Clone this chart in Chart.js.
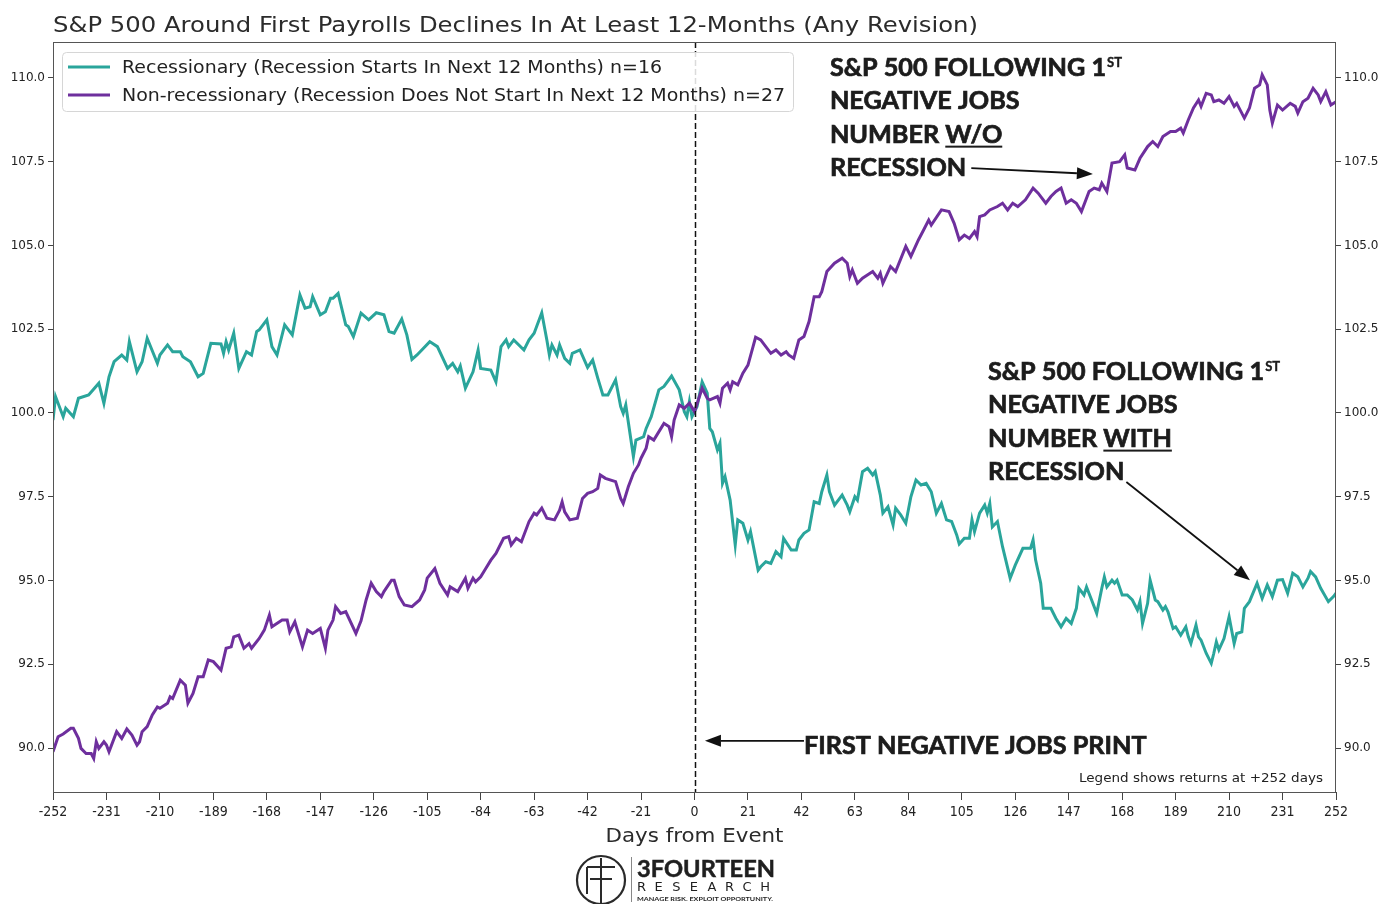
<!DOCTYPE html>
<html>
<head>
<meta charset="utf-8">
<script src="https://cdn.jsdelivr.net/npm/chart.js@4"></script>
<style>
  html, body { margin: 0; padding: 0; background: #fff; }
  canvas { display: block; }
</style>
</head>
<body>
<canvas id="chart" width="1395" height="904"></canvas>
<script>
// ── Data ──────────────────────────────────────────────────
const TITLE = 'S&P 500 Around First Payrolls Declines In At Least 12-Months (Any Revision)';
const LABEL_REC = 'Recessionary (Recession Starts In Next 12 Months) n=16';
const LABEL_NON = 'Non-recessionary (Recession Does Not Start In Next 12 Months) n=27';

const X_TICKS = [-252,-231,-210,-189,-168,-147,-126,-105,-84,-63,-42,-21,0,21,42,63,84,105,126,147,168,189,210,231,252];
const Y_TICKS = [90.0, 92.5, 95.0, 97.5, 100.0, 102.5, 105.0, 107.5, 110.0];

const DAYS_REC = [-252,-251,-248,-247,-244,-242,-238,-234,-232,-230,-228,-225,-223,-222,-219,-217,-215,-211,-210,-207,
  -205,-202,-201,-198,-195,-193,-190,-186,-185,-184,-183,-181,-179,-176,-174,-172,-171,-168,-166,-164,
  -161,-158,-155,-153,-151,-150,-147,-145,-143,-142,-140,-137,-136,-134,-131,-128,-125,-122,-120,-118,
  -115,-113,-111,-109,-104,-101,-97,-95,-93,-92,-90,-87,-85,-84,-80,-78,-76,-74,-73,-71,
  -67,-65,-63,-60,-58,-57,-56,-54,-53,-51,-49,-48,-45,-42,-40,-38,-36,-34,-31,-29,
  -28,-27,-24,-23,-20,-19,-17,-14,-12,-9,-6,-4,-3,-2,-1,1,3,5,6,7,
  9,10,11,12,14,16,17,19,21,22,25,26,28,30,32,34,35,38,40,41,
  43,45,47,49,50,52,53,55,58,60,61,63,64,66,68,70,71,73,74,76,
  78,79,81,83,85,87,89,91,93,95,97,99,101,103,104,106,108,109,110,112,
  114,115,116,117,119,121,124,126,129,132,133,134,136,137,140,142,144,146,148,150,
  151,153,154,156,158,160,161,162,164,165,166,168,170,172,174,175,176,178,179,181,
  182,184,185,186,188,189,191,193,194,195,197,198,199,201,203,204,205,206,208,210,
  212,213,215,216,218,221,223,225,227,229,231,233,235,237,239,241,242,244,246,249,
  251,252];
const VALS_REC = [99.79,100.49,99.89,100.14,99.89,100.44,100.54,100.89,100.29,101.08,101.53,101.73,101.58,102.13,101.23,101.53,102.23,101.48,101.73,102.03,
  101.83,101.83,101.68,101.53,101.08,101.18,102.08,102.06,101.78,102.13,101.88,102.38,101.33,101.83,101.73,102.43,102.48,102.78,101.98,101.73,
  102.63,102.33,103.52,103.13,103.17,103.47,102.93,103.02,103.42,103.42,103.57,102.63,102.58,102.28,102.98,102.78,102.99,102.93,102.43,102.38,
  102.80,102.33,101.60,101.73,102.13,101.98,101.33,101.48,101.23,101.40,100.74,101.23,101.88,101.33,101.28,100.93,101.98,102.18,101.98,102.18,
  101.88,102.18,102.38,102.99,102.18,101.73,102.03,101.73,102.03,101.63,101.48,101.78,101.88,101.36,101.58,101.04,100.54,100.54,100.99,100.19,
  99.99,100.24,98.70,99.19,99.29,99.54,99.89,100.69,100.79,101.10,100.69,100.04,99.89,100.34,99.89,100.19,100.93,100.59,99.54,99.44,
  98.90,99.10,97.90,98.10,97.40,96.06,96.81,96.71,96.21,96.46,95.31,95.41,95.56,95.51,95.86,95.71,96.26,95.91,95.91,96.21,
  96.41,96.51,97.35,97.30,97.65,98.15,97.65,97.25,97.55,97.25,97.05,97.50,97.40,98.25,98.35,98.15,98.25,97.55,97.01,97.20,
  96.66,97.16,96.96,96.71,97.50,98.00,97.85,97.90,97.65,97.01,97.30,96.81,96.76,96.36,96.09,96.26,96.26,96.81,96.46,97.01,
  97.25,97.01,97.30,96.60,96.76,96.01,95.07,95.46,95.96,95.96,96.21,95.61,94.92,94.17,94.17,93.87,93.62,93.87,93.72,94.17,
  94.77,94.57,94.81,94.42,94.02,94.77,95.11,94.81,95.01,94.92,95.01,94.57,94.57,94.42,94.12,94.37,93.72,94.32,95.01,94.42,
  94.37,94.12,94.22,94.07,93.57,93.62,93.37,93.62,93.32,93.12,93.67,93.32,93.22,92.83,92.53,92.83,93.17,92.93,93.27,93.92,
  93.12,93.42,93.47,94.17,94.37,94.92,94.47,94.87,94.52,95.01,95.03,94.62,95.22,95.11,94.81,95.07,95.27,95.11,94.77,94.37,
  94.52,94.62];

const DAYS_NON = [-252,-250,-248,-245,-244,-242,-241,-239,-237,-236,-235,-234,-232,-231,-230,-227,-225,-223,-221,-219,
  -218,-217,-215,-213,-211,-210,-207,-206,-205,-202,-200,-199,-197,-195,-193,-191,-189,-186,-184,-182,
  -181,-179,-177,-175,-174,-171,-169,-167,-166,-162,-160,-159,-157,-154,-152,-150,-147,-145,-144,-142,
  -141,-139,-137,-133,-131,-129,-127,-125,-123,-122,-119,-118,-116,-114,-111,-108,-106,-105,-102,-100,
  -97,-96,-93,-90,-89,-87,-86,-84,-82,-80,-78,-75,-73,-72,-70,-68,-65,-63,-62,-60,
  -58,-55,-53,-52,-51,-49,-46,-44,-42,-40,-38,-37,-35,-31,-29,-28,-26,-24,-22,-21,
  -19,-18,-16,-12,-10,-9,-8,-6,-4,-2,0,3,5,6,9,10,11,13,14,15,
  17,19,21,23,24,26,30,32,34,36,37,39,41,43,45,47,49,50,52,55,
  58,60,61,62,64,66,70,72,73,74,77,79,83,85,88,90,92,93,97,100,
  102,104,106,108,110,111,112,114,116,119,121,123,125,127,130,133,135,138,140,142,
  144,146,148,150,152,155,157,159,160,162,164,167,169,170,173,175,178,180,182,184,
  187,189,191,192,194,196,198,199,201,203,204,206,208,210,212,213,216,218,220,222,
  223,225,226,227,229,231,234,236,237,239,241,243,245,246,248,250,252];
const VALS_NON = [89.89,90.34,90.42,90.59,90.59,90.29,89.99,89.84,89.84,89.69,90.19,89.99,90.19,90.09,89.89,90.49,90.29,90.57,90.39,90.09,
  90.19,90.49,90.64,90.99,91.23,91.19,91.34,91.53,91.48,92.03,91.88,91.34,91.63,92.13,92.13,92.63,92.58,92.33,92.98,93.02,
  93.32,93.37,92.98,93.12,92.98,93.27,93.52,93.97,93.62,93.82,93.82,93.47,93.77,93.02,93.52,93.42,93.57,92.98,93.52,93.82,
  94.22,94.02,94.07,93.42,93.80,94.42,94.92,94.67,94.52,94.67,95.01,95.01,94.52,94.27,94.22,94.42,94.72,95.07,95.36,94.92,
  94.57,94.81,94.67,95.07,94.77,95.07,94.96,95.11,95.36,95.61,95.81,96.26,96.31,96.06,96.26,96.16,96.76,97.01,96.96,97.16,
  96.86,96.81,97.10,97.35,97.05,96.81,96.86,97.45,97.60,97.65,97.75,98.15,98.05,97.95,97.45,97.30,97.80,98.20,98.45,98.65,
  98.95,99.29,99.19,99.69,99.59,99.29,99.79,100.24,100.14,100.29,100.04,100.74,100.44,100.39,100.49,100.29,100.74,100.89,100.69,100.93,
  100.84,101.19,101.43,101.98,102.26,102.18,101.78,101.88,101.73,101.83,101.73,101.63,102.18,102.28,102.73,103.47,103.47,103.62,104.22,104.47,
  104.62,104.47,104.07,104.27,103.87,104.02,104.22,104.02,104.17,103.87,104.37,104.22,104.97,104.67,105.17,105.46,105.76,105.61,106.06,106.01,
  105.66,105.17,105.31,105.21,105.41,105.26,105.86,105.91,106.06,106.16,106.26,106.06,106.26,106.16,106.36,106.71,106.56,106.26,106.46,106.61,
  106.71,106.26,106.36,106.26,106.01,106.61,106.71,106.66,106.86,106.61,107.46,107.50,107.70,107.31,107.25,107.60,107.95,108.10,107.95,108.25,
  108.40,108.40,108.50,108.35,108.75,109.10,109.34,109.15,109.54,109.49,109.29,109.34,109.24,109.44,109.15,109.24,108.80,109.10,109.69,109.79,
  110.09,109.79,109.04,108.65,109.19,109.04,109.24,109.15,108.95,109.29,109.39,109.69,109.49,109.29,109.59,109.19,109.29];

// ── Styles ────────────────────────────────────────────────
const TEAL   = '#2aa59b';
const PURPLE = '#6e2f9d';
const INK    = '#222222';
const Y_MIN  = 88.69, Y_MAX = 111.07;
const TICK_FONT   = { family: "'DejaVu Sans', sans-serif", size: 12 };
const XTICK_FONT  = { family: "'DejaVu Sans Condensed', 'DejaVu Sans', sans-serif", size: 14 };
const BOLD = "Lato, 'Noto Sans', sans-serif";

const toPts = (xs, ys) => xs.map((d, i) => ({ x: d, y: ys[i] }));

// draws text squeezed/stretched to a given width
function fitText(ctx, text, x, y, font, width, align, stroke) {
  ctx.save();
  ctx.font = font;
  const w = ctx.measureText(text).width;
  const sx = width ? width / w : 1;
  ctx.translate(x, y);
  ctx.scale(sx, 1);
  ctx.textAlign = align || 'left';
  ctx.fillText(text, 0, 0);
  if (stroke) {
    ctx.lineWidth = stroke; ctx.strokeStyle = ctx.fillStyle;
    ctx.strokeText(text, 0, 0);
  }
  ctx.restore();
  return w * sx;
}

function arrow(ctx, x1, y1, x2, y2) {
  const a = Math.atan2(y2 - y1, x2 - x1), L = 16, W = 6;
  ctx.save();
  ctx.strokeStyle = '#111'; ctx.fillStyle = '#111'; ctx.lineWidth = 1.8;
  ctx.beginPath();
  ctx.moveTo(x1, y1);
  ctx.lineTo(x2 - L * Math.cos(a), y2 - L * Math.sin(a));
  ctx.stroke();
  ctx.beginPath();
  ctx.moveTo(x2, y2);
  ctx.lineTo(x2 - L * Math.cos(a) + W * Math.sin(a), y2 - L * Math.sin(a) - W * Math.cos(a));
  ctx.lineTo(x2 - L * Math.cos(a) - W * Math.sin(a), y2 - L * Math.sin(a) + W * Math.cos(a));
  ctx.closePath();
  ctx.fill();
  ctx.restore();
}

// ── Decorations: frame, zero line, legend, notes, logo ────
const decor = {
  id: 'decor',
  afterDatasetsDraw(chart) {
    const { ctx, chartArea: ca, scales: { x } } = chart;
    // dashed event line
    ctx.save();
    ctx.strokeStyle = '#111'; ctx.lineWidth = 1.5; ctx.setLineDash([6, 3]);
    const x0 = Math.round(x.getPixelForValue(0)) + 0.5;
    ctx.beginPath(); ctx.moveTo(x0, ca.top); ctx.lineTo(x0, ca.bottom); ctx.stroke();
    ctx.restore();
  },
  afterDraw(chart) {
    const { ctx, chartArea: ca, scales: { x, y } } = chart;
    const px = v => x.getPixelForValue(v), py = v => y.getPixelForValue(v);

    // frame
    ctx.save();
    ctx.strokeStyle = '#555'; ctx.lineWidth = 1;
    ctx.strokeRect(ca.left + 0.5, ca.top + 0.5, ca.right - ca.left - 1, ca.bottom - ca.top);
    ctx.restore();

    // title
    ctx.fillStyle = '#2b2b2b'; ctx.textBaseline = 'alphabetic';
    fitText(ctx, TITLE, ca.left, 32, "22px 'DejaVu Sans'", 925);

    // legend box
    const lx = ca.left + 9, ly = ca.top + 10;
    ctx.save();
    ctx.fillStyle = 'rgba(255,255,255,0.85)'; ctx.strokeStyle = '#d6d6d6'; ctx.lineWidth = 1;
    ctx.beginPath(); ctx.roundRect(lx + 0.5, ly + 0.5, 731, 59, 4); ctx.fill(); ctx.stroke();
    [[TEAL, LABEL_REC, 15, 540], [PURPLE, LABEL_NON, 43, 663]].forEach(([c, t, dy, w]) => {
      ctx.strokeStyle = c; ctx.lineWidth = 3;
      ctx.beginPath(); ctx.moveTo(lx + 6, ly + dy); ctx.lineTo(lx + 48, ly + dy); ctx.stroke();
      ctx.fillStyle = INK; ctx.textBaseline = 'middle';
      fitText(ctx, t, lx + 60, ly + dy + 1.5, "17px 'DejaVu Sans'", w);
    });
    ctx.restore();

    // annotation blocks
    ctx.save();
    ctx.fillStyle = '#1c1c1c'; ctx.textBaseline = 'alphabetic';
    const sq = 1.05;
    const bold = (t, bx, by) => {
      ctx.font = `bold 24px ${BOLD}`;
      const w = ctx.measureText(t).width * sq;
      fitText(ctx, t, bx, by, `bold 24px ${BOLD}`, w, 'left', 0.7);
      return w;
    };
    const LH = 33.4;
    const block = (bx, by, under) => {
      let w = bold('S&P 500 FOLLOWING 1', bx, by);
      fitText(ctx, 'ST', bx + w + 1, by - 9, `bold 13px ${BOLD}`, 0, 'left', 0.4);
      bold('NEGATIVE JOBS', bx, by + LH);
      w = bold('NUMBER ', bx, by + 2 * LH);
      const uw = bold(under, bx + w, by + 2 * LH);
      ctx.fillRect(bx + w, by + 2 * LH + 3, uw, 2);
      return bold('RECESSION', bx, by + 3 * LH);
    };
    const ax = px(53.2), ay = py(110.06);
    const wA = block(ax, ay, 'W/O');
    arrow(ctx, ax + wA + 5, ay + 3 * LH - 8, px(156.5), py(107.13));
    const bx = px(115.3), by = py(100.99);
    const wB = block(bx, by, 'WITH');
    arrow(ctx, bx + wB + 2, by + 3 * LH + 2, px(218.2), py(95.01));
    const fx = px(43.0), fy = py(89.83);
    bold('FIRST NEGATIVE JOBS PRINT', fx, fy);
    arrow(ctx, fx, fy - 13, px(4.1), fy - 13);
    ctx.restore();

    // note
    ctx.fillStyle = INK; ctx.textBaseline = 'alphabetic';
    fitText(ctx, 'Legend shows returns at +252 days', ca.right - 13, ca.bottom - 10, "13px 'DejaVu Sans'", 244, 'right');

    // axis title
    ctx.fillStyle = '#2b2b2b';
    fitText(ctx, 'Days from Event', px(0), ca.bottom + 50, "20px 'DejaVu Sans'", 178, 'center');

    // logo
    const cx = 601, cy = 880;
    ctx.save();
    ctx.strokeStyle = '#2a2a2a'; ctx.lineWidth = 2.2;
    ctx.beginPath(); ctx.arc(cx, cy, 24, 0, Math.PI * 2); ctx.stroke();
    ctx.lineWidth = 2;
    ctx.beginPath();
    ctx.moveTo(cx, cy - 22); ctx.lineTo(cx, cy + 23);
    ctx.moveTo(cx - 14, cy - 13); ctx.lineTo(cx + 14, cy - 13);
    ctx.moveTo(cx - 11, cy - 1); ctx.lineTo(cx + 11, cy - 1);
    ctx.moveTo(cx - 14, cy - 13); ctx.lineTo(cx - 14, cy + 14);
    ctx.stroke();
    ctx.strokeStyle = '#888'; ctx.lineWidth = 1;
    ctx.beginPath(); ctx.moveTo(631.5, 857); ctx.lineTo(631.5, 902); ctx.stroke();
    ctx.fillStyle = '#1f1f1f';
    fitText(ctx, '3FOURTEEN', 637, 877, `bold 23px ${BOLD}`, 138, 'left', 0.5);
    ctx.font = "13px 'DejaVu Sans'";
    'RESEARCH'.split('').forEach((ch, i) => {
      ctx.textAlign = 'left';
      ctx.fillText(ch, 637 + i * 17.6, 891);
    });
    fitText(ctx, 'MANAGE RISK. EXPLOIT OPPORTUNITY.', 637, 901, `bold 6px ${BOLD}`, 136);
    ctx.restore();
  }
};

// ── Chart ─────────────────────────────────────────────────
const yAxis = (position, width) => ({
  type: 'linear', position, min: Y_MIN, max: Y_MAX,
  afterBuildTicks: a => { a.ticks = Y_TICKS.map(v => ({ value: v })); },
  afterFit: a => { a.width = width; },
  ticks: { callback: v => v.toFixed(1), color: INK, font: TICK_FONT, padding: 3 },
  grid: { drawOnChartArea: false, tickLength: 5, color: '#444' },
  border: { display: false },
});

new Chart(document.getElementById('chart'), {
  type: 'line',
  data: {
    datasets: [
      { label: LABEL_REC, data: toPts(DAYS_REC, VALS_REC), borderColor: TEAL, borderWidth: 3,
        pointRadius: 0, tension: 0, order: 1 },
      { label: LABEL_NON, data: toPts(DAYS_NON, VALS_NON), borderColor: PURPLE, borderWidth: 3,
        pointRadius: 0, tension: 0, order: 0 },
    ],
  },
  options: {
    responsive: false,
    animation: false,
    layout: { padding: { top: 42, left: 0, right: 0, bottom: 72 } },
    plugins: { legend: { display: false }, tooltip: { enabled: false } },
    scales: {
      x: {
        type: 'linear', min: -252, max: 252,
        afterBuildTicks: a => { a.ticks = X_TICKS.map(v => ({ value: v })); },
        afterFit: a => { a.height = 40; },
        ticks: { color: INK, font: XTICK_FONT, maxRotation: 0, autoSkip: false, padding: 4 },
        grid: { drawOnChartArea: false, tickLength: 8, color: '#444' },
        border: { display: false },
      },
      y: yAxis('left', 53),
      y2: yAxis('right', 59),
    },
  },
  plugins: [decor],
});
</script>
</body>
</html>
